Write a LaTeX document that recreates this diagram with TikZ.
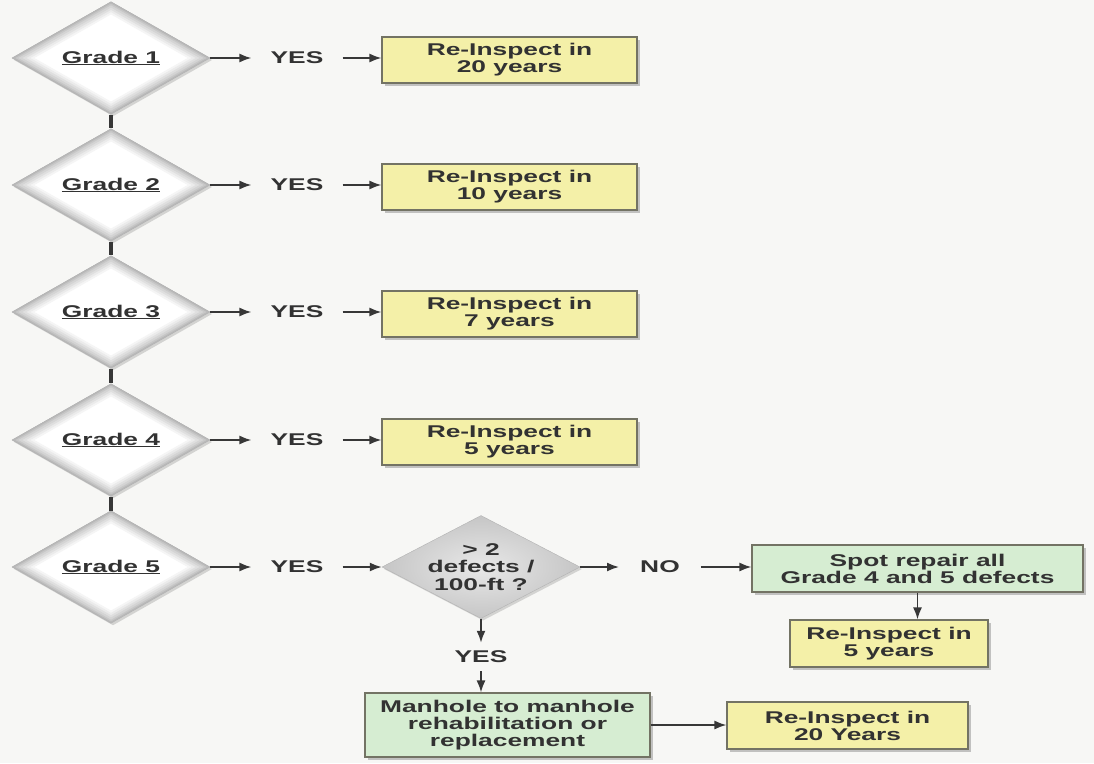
\documentclass[tikz,border=0pt]{standalone}
\usepackage{fontspec}
\newfontfamily\lab[FakeStretch=1.55]{Liberation Sans}
\usetikzlibrary{shapes.geometric,shadows,arrows.meta}
\definecolor{bgc}{RGB}{247,247,245}
\definecolor{txt}{RGB}{50,50,50}
\definecolor{yel}{RGB}{244,240,168}
\definecolor{grn}{RGB}{214,237,210}
\definecolor{edge}{RGB}{115,115,100}
\definecolor{arrc}{RGB}{55,55,55}
\newcommand{\bevelpath}[3]{%
  \foreach \w/\c in {22/#1!8,18/#1!16,14/#1!25,10/#1!34,6/#1!44,3/#2}{%
    \draw[line width=\w pt, color=\c, line join=miter]
      (path picture bounding box.north) -- (path picture bounding box.east) --
      (path picture bounding box.south) -- (path picture bounding box.west) -- cycle;}}
\tikzset{
  txtfont/.style={font=\lab\bfseries\fontsize{17}{17}\selectfont, text=txt},
  grade/.style={diamond, minimum width=198pt, minimum height=103pt, inner sep=0pt,
    draw=gray!60, fill=white, txtfont,
    path picture={\bevelpath{gray}{gray!55}{}},
    drop shadow={shadow xshift=2pt, shadow yshift=-2pt, opacity=0.3}},
  qdiam/.style={diamond, minimum width=198pt, minimum height=103pt, inner sep=0pt,
    draw=gray!60, inner color=gray!18, outer color=gray!45,
    drop shadow={shadow xshift=2pt, shadow yshift=-2pt, opacity=0.3}},
  ybox/.style={rectangle, draw=edge, line width=1.1pt, fill=yel, minimum width=255pt,
    minimum height=46pt, align=center, txtfont,
    drop shadow={shadow xshift=2.5pt, shadow yshift=-2.5pt, opacity=0.45}},
  gbox/.style={ybox, fill=grn},
  lbl/.style={txtfont, inner xsep=19pt, inner ysep=9pt},
  arr/.style={draw=arrc, line width=1.8pt, -{Latex[length=12pt,width=9pt]}},
  vline/.style={draw=arrc, line width=3.2pt}
}
\begin{document}
\begin{tikzpicture}[x=1pt,y=-1pt]
\fill[bgc] (0,0) rectangle (1094,763);
\useasboundingbox (0,0) rectangle (1094,763);
% grade diamonds and rows
\foreach \i/\yy/\yrs in {1/58/20,2/185/10,3/312/7,4/440/5}{
  \node[grade] (G\i) at (111,\yy) {\underline{Grade \i}};
  \node[lbl] (Y\i) at (297,\yy) {YES};
  \node[ybox] (B\i) at (509.5,\yy+2) {Re-Inspect in\\\yrs\ years};
  \draw[arr] (G\i.east) -- (Y\i.west);
  \draw[arr] (Y\i.east) -- (Y\i.east -| B\i.west);
}
\node[grade] (G5) at (111,567) {\underline{Grade 5}};
\node[lbl] (Y5) at (297,567) {YES};
\draw[vline] (G1.south) -- (G2.north);
\draw[vline] (G2.south) -- (G3.north);
\draw[vline] (G3.south) -- (G4.north);
\draw[vline] (G4.south) -- (G5.north);
\draw[arr] (G5.east) -- (Y5.west);
% question diamond
\node[qdiam, label={[txtfont, align=center, font=\lab\bfseries\fontsize{17}{17.5}\selectfont]center:> 2\\defects /\\100-ft ?}] (Q) at (481,567) {};
\draw[arr] (Y5.east) -- (Q.west);
\node[lbl, inner xsep=21pt] (NO) at (660,567) {NO};
\draw[arr] (Q.east) -- (NO.west);
\node[gbox, minimum width=331pt, minimum height=47pt] (S) at (917.5,568.5) {Spot repair all\\Grade 4 and 5 defects};
\draw[arr] (NO.east) -- (NO.east -| S.west);
\node[ybox, minimum width=198pt, minimum height=47pt] (B5) at (889,643.5) {Re-Inspect in\\5 years};
\draw[arr] (S.south) -- (S.south |- B5.north);
% yes branch
\node[lbl, inner ysep=8pt] (YQ) at (481,657) {YES};
\draw[arr] (Q.south) -- (YQ.north);
\node[gbox, minimum width=285pt, minimum height=64pt] (M) at (507.5,725) {Manhole to manhole\\rehabilitation or\\replacement};
\draw[arr] (YQ.south) -- (YQ.south |- M.north);
\node[ybox, minimum width=241pt, minimum height=47pt] (B6) at (847.5,725.5) {Re-Inspect in\\20 Years};
\draw[arr] (M.east) -- (M.east -| B6.west);
\end{tikzpicture}
\end{document}
